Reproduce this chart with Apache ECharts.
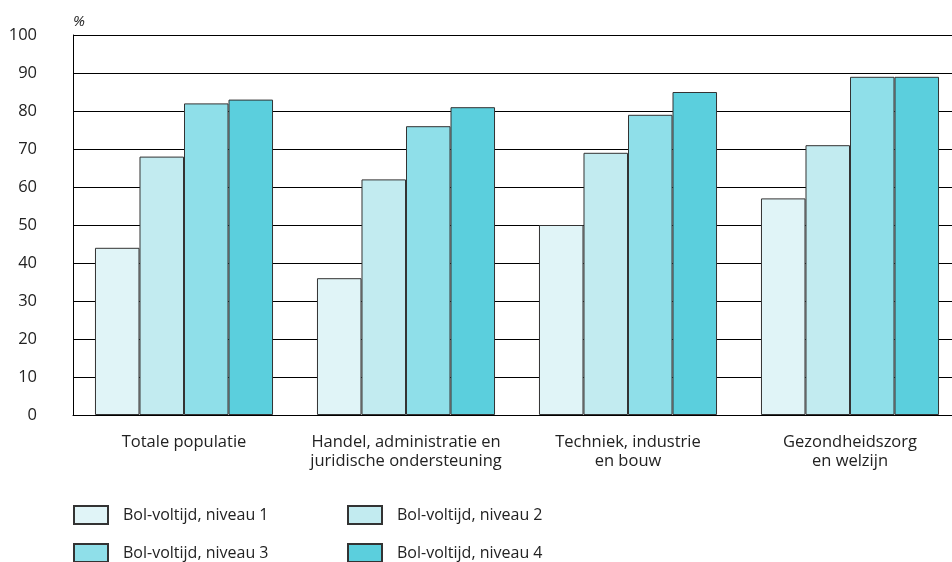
<!DOCTYPE html>
<html><head><meta charset="utf-8">
<script src="https://cdn.jsdelivr.net/npm/echarts@6/dist/echarts.min.js"></script>
<style>html,body{margin:0;padding:0;background:#fff;overflow:hidden}#c{width:961px;height:562px}</style>
</head><body><div id="c"></div>
<script>
const categories = ['Totale populatie', 'Handel, administratie en\njuridische ondersteuning', 'Techniek, industrie\nen bouw', 'Gezondheidszorg\nen welzijn'];
const seriesNames = ['Bol-voltijd, niveau 1', 'Bol-voltijd, niveau 2', 'Bol-voltijd, niveau 3', 'Bol-voltijd, niveau 4'];
const niveau1 = [44, 36, 50, 57];
const niveau2 = [68, 62, 69, 71];
const niveau3 = [82, 76, 79, 89];
const niveau4 = [83, 81, 85, 89];
const colors = ['#e0f4f7', '#c2ebf0', '#8fdfe9', '#5bcfdd'];
const values = [niveau1, niveau2, niveau3, niveau4];
const font = 'Open Sans';
const legendPos = [[73, 505], [347, 505], [73, 543], [347, 543]];
const chart = echarts.init(document.getElementById('c'));
chart.setOption({
  animation: false,
  textStyle: { fontFamily: font },
  grid: { left: 73, right: 0, top: 35, height: 380, containLabel: false },
  legend: seriesNames.map((n, i) => ({
    data: [n], left: legendPos[i][0], top: legendPos[i][1], padding: 0,
    itemWidth: 34, itemHeight: 18, icon: 'rect', selectedMode: false,
    textStyle: { fontFamily: font, fontSize: 16, color: '#222', padding: [0, 0, 0, 10] }
  })),
  xAxis: {
    type: 'category', data: categories,
    axisLine: { lineStyle: { color: '#000', width: 1 } },
    axisTick: { show: false },
    axisLabel: { interval: 0, color: '#222', fontSize: 16.5, lineHeight: 19, margin: 18, fontFamily: font }
  },
  yAxis: {
    type: 'value', min: 0, max: 100, interval: 10, name: '%', nameLocation: 'end',
    nameGap: 6, nameTextStyle: { color: '#222', fontSize: 15, fontStyle: 'italic', align: 'left' },
    axisLine: { show: true, lineStyle: { color: '#000', width: 1 } },
    axisTick: { show: false },
    splitLine: { lineStyle: { color: '#000', width: 1 } },
    axisLabel: { color: '#222', fontSize: 16.5, margin: 36, fontFamily: font }
  },
  series: values.map((v, i) => ({
    name: seriesNames[i], type: 'bar', data: v,
    barGap: '0%', barCategoryGap: '19.8%',
    itemStyle: { color: colors[i], borderColor: '#333', borderWidth: 1 }
  }))
});
</script></body></html>
